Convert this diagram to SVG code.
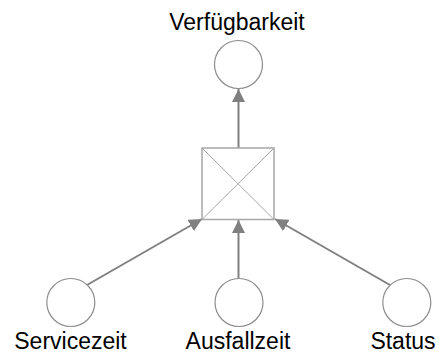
<svg xmlns="http://www.w3.org/2000/svg" width="439" height="353" viewBox="0 0 439 353">
  <style>
    .node-circle { fill: #ffffff; stroke: #8c8c8c; stroke-width: 1.2; }
    .gate { fill: #ffffff; stroke: #a6a6a6; stroke-width: 1.5; }
    .gate-x { stroke: #a6a6a6; stroke-width: 1; }
    .edge { stroke: #808080; stroke-width: 2; fill: none; marker-end: url(#arrow); }
    .label { font-family: "Liberation Sans", Arial, sans-serif; font-size: 23px; fill: #000000; text-anchor: middle; }
  </style>
  <defs>
    <marker id="arrow" viewBox="0 0 12 12" refX="12" refY="6" markerWidth="13" markerHeight="13" markerUnits="userSpaceOnUse" orient="auto">
      <path d="M0,0 L12,6 L0,12 Z" fill="#808080"/>
    </marker>
  </defs>

  <rect width="439" height="353" fill="#ffffff"/>

  <g id="connectors">
    <line class="edge" x1="238.5" y1="148" x2="238.5" y2="89"/>
    <line class="edge" x1="87" y1="285" x2="202" y2="219"/>
    <line class="edge" x1="238.5" y1="278" x2="238.5" y2="220"/>
    <line class="edge" x1="390" y1="285" x2="275" y2="219"/>
  </g>

  <g id="gate">
    <rect class="gate" x="202" y="148" width="72" height="71.5"/>
    <line class="gate-x" x1="202" y1="148" x2="274" y2="219.5"/>
    <line class="gate-x" x1="274" y1="148" x2="202" y2="219.5"/>
  </g>

  <g id="verfuegbarkeit">
    <circle class="node-circle" cx="238.5" cy="64.5" r="24"/>
    <text class="label" x="237" y="30">Verfügbarkeit</text>
  </g>

  <g id="servicezeit">
    <circle class="node-circle" cx="70.8" cy="302.5" r="24"/>
    <text class="label" x="70.5" y="348.5">Servicezeit</text>
  </g>

  <g id="ausfallzeit">
    <circle class="node-circle" cx="239" cy="302.5" r="24"/>
    <text class="label" x="238" y="348.5">Ausfallzeit</text>
  </g>

  <g id="status">
    <circle class="node-circle" cx="406.8" cy="302.5" r="24"/>
    <text class="label" x="403" y="348.5">Status</text>
  </g>
</svg>
